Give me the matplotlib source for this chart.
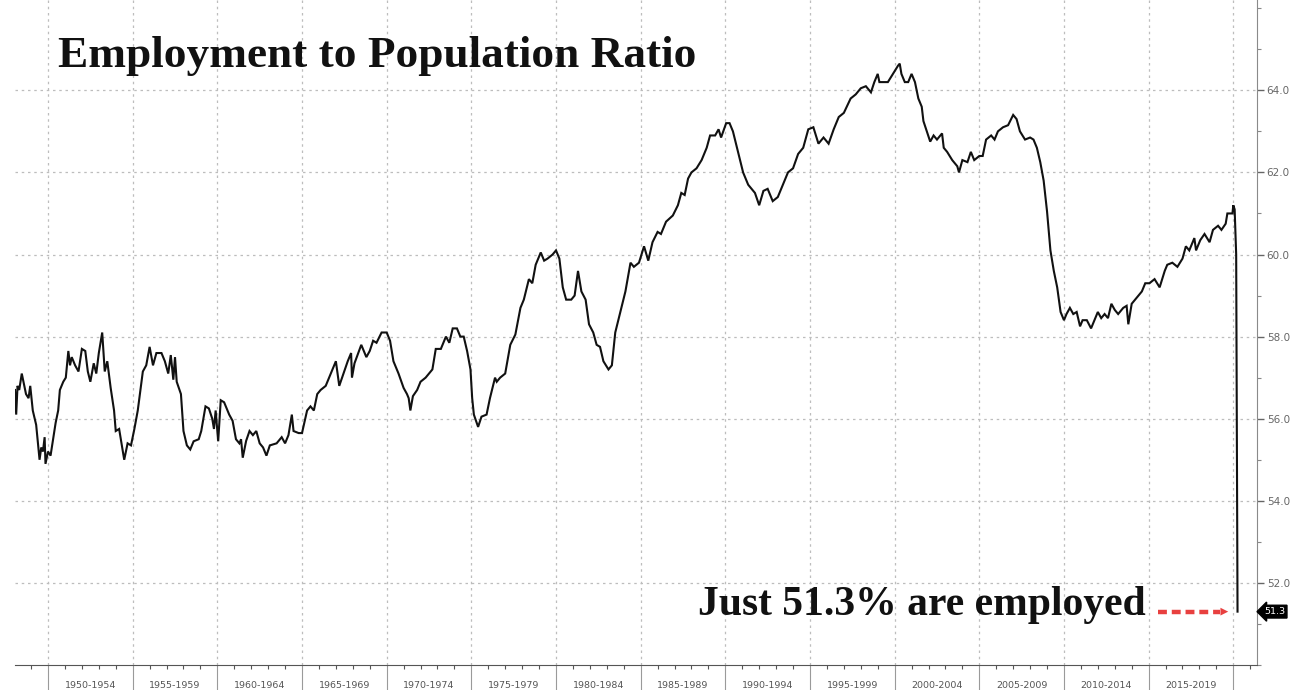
import matplotlib
matplotlib.use('Agg')
import numpy as np
import matplotlib.pyplot as plt
from matplotlib.ticker import MultipleLocator, FormatStrFormatter

# Civilian employment-population ratio (%), decimal years
years = [
    1948.05, 1948.12, 1948.2, 1948.3, 1948.45, 1948.55, 1948.7, 1948.85, 1948.95,
    1949.1, 1949.3, 1949.5, 1949.6, 1949.7, 1949.8, 1949.85,
    1950.0, 1950.15, 1950.3, 1950.45, 1950.6, 1950.7, 1950.9,
    1951.05, 1951.2, 1951.3, 1951.4, 1951.6, 1951.8,
    1952.0, 1952.2, 1952.35, 1952.5, 1952.7, 1952.85,
    1953.0, 1953.2, 1953.35, 1953.5, 1953.7, 1953.9,
    1954.0, 1954.2, 1954.5, 1954.7, 1954.9,
    1955.1, 1955.3, 1955.6, 1955.8,
    1956.0, 1956.2, 1956.4, 1956.7, 1956.9,
    1957.1, 1957.25, 1957.4, 1957.5, 1957.6, 1957.85,
    1958.0, 1958.2, 1958.4, 1958.6, 1958.9,
    1959.05, 1959.3, 1959.5, 1959.7, 1959.8, 1959.9,
    1960.05, 1960.2, 1960.4, 1960.7, 1960.9,
    1961.1, 1961.3, 1961.4, 1961.5, 1961.7, 1961.9,
    1962.1, 1962.3, 1962.5, 1962.7, 1962.9,
    1963.1, 1963.5, 1963.8,
    1964.0, 1964.2, 1964.4, 1964.5, 1964.8,
    1965.0, 1965.3, 1965.5, 1965.7, 1965.9,
    1966.1, 1966.4, 1966.7,
    1967.0, 1967.2, 1967.45, 1967.7, 1967.8, 1967.9, 1967.95,
    1968.1, 1968.5, 1968.8,
    1969.0, 1969.2, 1969.4, 1969.7,
    1970.0, 1970.2, 1970.4, 1970.7,
    1971.0, 1971.2, 1971.3, 1971.4, 1971.55, 1971.8,
    1972.0, 1972.3, 1972.5, 1972.7, 1972.9,
    1973.2, 1973.5, 1973.7, 1973.9,
    1974.15, 1974.35, 1974.55, 1974.75, 1974.95,
    1975.05, 1975.15, 1975.4, 1975.6, 1975.9,
    1976.1, 1976.4, 1976.5, 1976.7,
    1977.0, 1977.3, 1977.6, 1977.9,
    1978.1, 1978.4, 1978.6, 1978.8,
    1979.1, 1979.3, 1979.5, 1979.8,
    1980.0, 1980.2, 1980.4, 1980.6, 1980.9,
    1981.1, 1981.3, 1981.5, 1981.75, 1981.95,
    1982.2, 1982.4, 1982.6, 1982.8,
    1983.1, 1983.3, 1983.5, 1983.8,
    1984.1, 1984.4, 1984.6, 1984.9,
    1985.2, 1985.45, 1985.7,
    1986.0, 1986.2, 1986.5, 1986.9,
    1987.2, 1987.4, 1987.6, 1987.8,
    1988.0, 1988.3, 1988.6, 1988.9,
    1989.1, 1989.4, 1989.6, 1989.75,
    1990.05, 1990.25, 1990.45, 1990.75,
    1991.05, 1991.35, 1991.75,
    1992.0, 1992.25, 1992.5, 1992.8,
    1993.1, 1993.4, 1993.7,
    1994.0, 1994.3, 1994.6, 1994.9,
    1995.2, 1995.5, 1995.8,
    1996.1, 1996.4, 1996.7,
    1997.0, 1997.4, 1997.7,
    1998.0, 1998.3, 1998.6, 1998.8,
    1999.0, 1999.1, 1999.3, 1999.6, 1999.9,
    2000.2, 2000.3, 2000.4, 2000.6, 2000.8,
    2001.0, 2001.2, 2001.4, 2001.6, 2001.7, 2001.9,
    2002.1, 2002.3, 2002.5, 2002.8, 2002.9,
    2003.1, 2003.4, 2003.7, 2003.8,
    2004.0, 2004.3, 2004.5, 2004.7,
    2005.0, 2005.2, 2005.4, 2005.7, 2005.9,
    2006.1, 2006.4, 2006.7,
    2007.0, 2007.2, 2007.4, 2007.7,
    2008.0, 2008.2, 2008.4, 2008.6, 2008.8,
    2009.0, 2009.2, 2009.4, 2009.6, 2009.8,
    2010.0, 2010.15, 2010.35, 2010.55, 2010.75, 2010.95,
    2011.1, 2011.35, 2011.6, 2011.8,
    2012.0, 2012.2, 2012.4, 2012.6, 2012.8,
    2013.0, 2013.2, 2013.5, 2013.7, 2013.8,
    2014.0, 2014.3, 2014.6, 2014.8,
    2015.05, 2015.35, 2015.65, 2015.95,
    2016.1, 2016.4, 2016.7,
    2017.0, 2017.2, 2017.4, 2017.7, 2017.8,
    2018.05, 2018.3, 2018.6, 2018.8,
    2019.1, 2019.3, 2019.55, 2019.65, 2019.95,
    2020.0, 2020.08, 2020.17, 2020.25,
]
ratio = [
    56.7, 56.1, 56.8, 56.7, 57.1, 56.9, 56.6, 56.5, 56.8,
    56.2, 55.85, 55.0, 55.3, 55.2, 55.55, 54.9,
    55.2, 55.1, 55.5, 55.9, 56.2, 56.7, 56.9,
    57.0, 57.65, 57.3, 57.5, 57.3, 57.15,
    57.7, 57.65, 57.15, 56.9, 57.35, 57.1,
    57.6, 58.1, 57.15, 57.4, 56.75, 56.2,
    55.7, 55.75, 55.0, 55.4, 55.35,
    55.75, 56.2, 57.15, 57.3,
    57.75, 57.3, 57.6, 57.6, 57.4,
    57.1, 57.55, 56.95, 57.5, 56.9, 56.6,
    55.7, 55.35, 55.25, 55.45, 55.5,
    55.7, 56.3, 56.25, 56.0, 55.75, 56.2,
    55.45, 56.45, 56.4, 56.1, 55.95,
    55.5, 55.4, 55.5, 55.05, 55.46, 55.7,
    55.6, 55.7, 55.4, 55.3, 55.1,
    55.35, 55.4, 55.55,
    55.4, 55.6, 56.1, 55.7, 55.65,
    55.65, 56.2, 56.3, 56.2, 56.6,
    56.7, 56.8, 57.1,
    57.4, 56.8, 57.1, 57.4, 57.5, 57.6, 57.0,
    57.35, 57.8, 57.5,
    57.65, 57.9, 57.85, 58.1,
    58.1, 57.9, 57.4, 57.1,
    56.75, 56.6, 56.5, 56.2, 56.55, 56.7,
    56.9, 57.0, 57.1, 57.2, 57.7,
    57.7, 58.0, 57.85, 58.2,
    58.2, 58.0, 58.0, 57.65, 57.2,
    56.5, 56.1, 55.8, 56.05, 56.1,
    56.5, 57.0, 56.9, 57.0,
    57.1, 57.8, 58.05, 58.7,
    58.9, 59.4, 59.3, 59.75,
    60.05, 59.85, 59.9, 60.0,
    60.1, 59.9, 59.2, 58.9, 58.9,
    59.0, 59.6, 59.1, 58.9, 58.3,
    58.1, 57.8, 57.75, 57.4,
    57.2, 57.3, 58.1, 58.6,
    59.1, 59.8, 59.7, 59.8,
    60.2, 59.85, 60.3,
    60.55, 60.5, 60.8, 60.95,
    61.2, 61.5, 61.45, 61.85,
    62.0, 62.1, 62.3, 62.6,
    62.9, 62.9, 63.05, 62.85,
    63.2, 63.2, 63.0, 62.5,
    62.0, 61.7, 61.5,
    61.2, 61.55, 61.6, 61.3,
    61.4, 61.7, 62.0,
    62.1, 62.45, 62.6, 63.05,
    63.1, 62.7, 62.85,
    62.7, 63.05, 63.35,
    63.45, 63.8, 63.9,
    64.05, 64.1, 63.95, 64.2,
    64.4, 64.2, 64.2, 64.2, 64.4,
    64.6, 64.65, 64.4, 64.2, 64.2,
    64.4, 64.2, 63.8, 63.6, 63.25, 63.0,
    62.75, 62.9, 62.8, 62.95, 62.6,
    62.5, 62.3, 62.15, 62.0,
    62.3, 62.25, 62.5, 62.3,
    62.4, 62.4, 62.8, 62.9, 62.8,
    63.0, 63.1, 63.15,
    63.4, 63.3, 63.0, 62.8,
    62.85, 62.8, 62.6, 62.25, 61.8,
    61.05, 60.1, 59.6, 59.2, 58.6,
    58.4, 58.55, 58.7, 58.55, 58.6, 58.25,
    58.4, 58.4, 58.2, 58.4,
    58.6, 58.45, 58.55, 58.45, 58.8,
    58.65, 58.55, 58.7, 58.75, 58.3,
    58.8, 58.95, 59.1, 59.3,
    59.3, 59.4, 59.2, 59.6,
    59.75, 59.8, 59.7,
    59.9, 60.2, 60.1, 60.4, 60.1,
    60.35, 60.5, 60.3, 60.6,
    60.7, 60.6, 60.75, 61.0, 61.0,
    61.2, 61.1, 60.0, 51.3,
]

period_starts = [1950, 1955, 1960, 1965, 1970, 1975, 1980,
                 1985, 1990, 1995, 2000, 2005, 2010, 2015]
period_labels = ['1950-1954', '1955-1959', '1960-1964', '1965-1969',
                 '1970-1974', '1975-1979', '1980-1984', '1985-1989',
                 '1990-1994', '1995-1999', '2000-2004', '2005-2009',
                 '2010-2014', '2015-2019']

W, H = 1296, 690
fig = plt.figure(figsize=(W / 100, H / 100), dpi=100)
ax = fig.add_axes([15 / W, 25 / H, (1257 - 15) / W, 665 / H])

ax.plot(years, ratio, color='#111111', lw=1.5, solid_joinstyle='miter')

ax.set_xlim(1948.05, 2021.4)
ax.set_ylim(50, 66.2)

for side in ['left', 'top']:
    ax.spines[side].set_visible(False)
ax.spines['right'].set_color('#8a8a8a')
ax.spines['bottom'].set_color('#555555')

# right hand value axis
ax.yaxis.tick_right()
ax.set_yticks([52, 54, 56, 58, 60, 62, 64])
ax.yaxis.set_minor_locator(MultipleLocator(1))
ax.yaxis.set_major_formatter(FormatStrFormatter('%.1f'))
ax.tick_params(axis='y', which='major', direction='out', length=5, width=1,
               color='#666666', labelsize=7.5, labelcolor='#666666', pad=2)
ax.tick_params(axis='y', which='minor', direction='out', length=3, width=0.8,
               color='#888888')

# time axis: 5-year separators, yearly minor ticks
ax.set_xticks(period_starts + [2020])
ax.set_xticklabels([])
ax.xaxis.set_minor_locator(MultipleLocator(1))
ax.tick_params(axis='x', which='major', direction='out', length=18, width=0.8,
               color='#9a9a9a')
ax.tick_params(axis='x', which='minor', direction='out', length=3, width=0.8,
               color='#555555')
for start, lab in zip(period_starts, period_labels):
    ax.text(start + 2.5, -21 / 665, lab, transform=ax.get_xaxis_transform(),
            ha='center', va='center', fontsize=6.8, color='#555555')

ax.grid(which='major', color='#bdbdbd', linestyle=(0, (2, 3)), linewidth=0.9)

fig.text(58 / W, 1 - 67 / H, 'Employment to Population Ratio',
         fontfamily='Liberation Serif', fontweight='bold', fontsize=32.6,
         va='baseline', ha='left', color='#111111')

last_year = years[-1]
last_value = ratio[-1]
red = '#e8403f'

ax.text(last_year - 5.4, last_value - 0.08, f'Just {last_value}% are employed',
        fontfamily='Liberation Serif', fontweight='bold', fontsize=30,
        ha='right', va='baseline', color='#111111')

ax.plot([last_year - 4.7, last_year - 1.05], [last_value, last_value],
        color=red, lw=3.2, dashes=(2.0, 1.1), solid_capstyle='butt')
ax.annotate('', xy=(last_year - 0.55, last_value),
            xytext=(last_year - 1.2, last_value),
            arrowprops=dict(arrowstyle='-|>', color=red, lw=0,
                            mutation_scale=14, shrinkA=0, shrinkB=0))

# last value badge on the value axis
ax.annotate(f'{last_value}', xy=(1, last_value),
            xycoords=('axes fraction', 'data'), xytext=(5, 0),
            textcoords='offset points', ha='left', va='center',
            fontsize=6.8, color='white',
            bbox=dict(boxstyle='larrow,pad=0.2', fc='black', ec='black'))

fig.savefig('out.png', dpi=100)
